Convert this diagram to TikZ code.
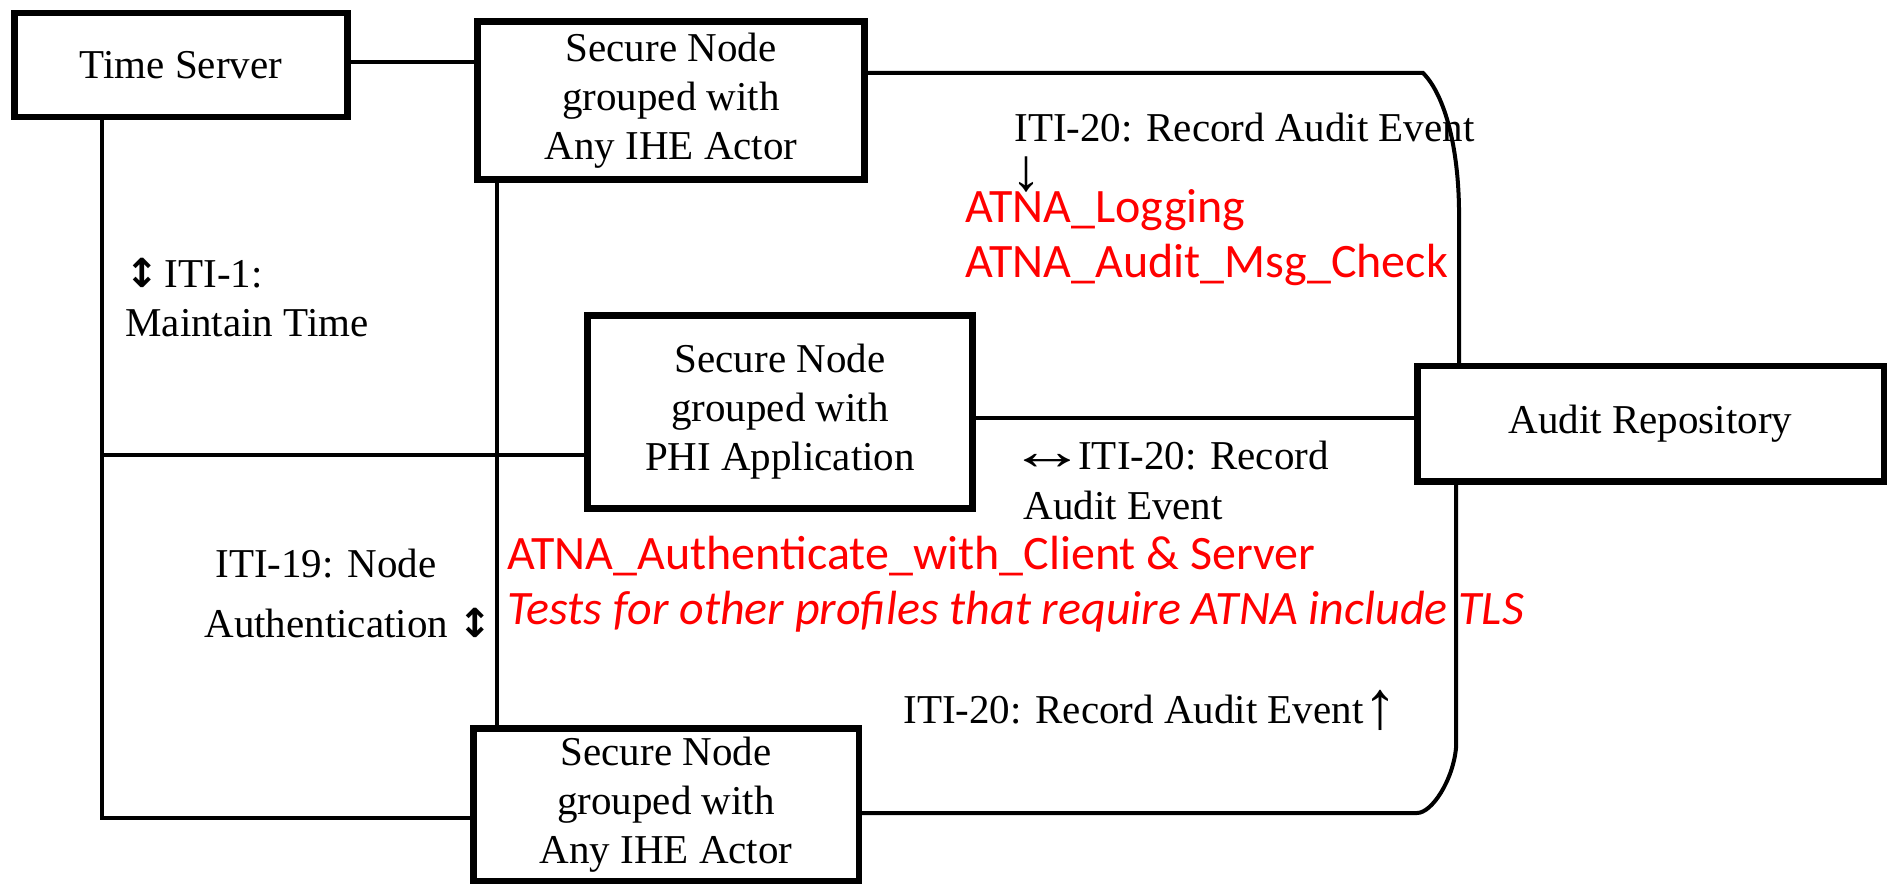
\documentclass[tikz,border=0pt]{standalone}
\usepackage{fontspec}
\setmainfont{Liberation Serif}
\newfontfamily\redfnt{Carlito}
\newfontfamily\arrfnt{DejaVu Sans}
\newcommand\blk{\fontsize{20.5}{24.5}\selectfont}
\newcommand\rdf{\redfnt\fontsize{24}{27}\selectfont}
\newcommand\udarr{{\arrfnt\bfseries\fontsize{20}{20}\selectfont ↕}}
\begin{document}
\begin{tikzpicture}[x=0.5pt,y=-0.5pt,
  box/.style={draw,line width=3.25pt,inner sep=0pt,align=center,font=\blk},
  conn/.style={line width=2pt},
  lbl/.style={inner sep=0pt,anchor=base west,font=\blk},
  redlbl/.style={inner sep=0pt,anchor=base west,font=\rdf,text={rgb,255:red,255;green,0;blue,0}}]
\useasboundingbox (0,0) rectangle (1889,886);
% boxes
\node[box,minimum width=166.5pt,minimum height=52pt] (ts) at (181,65) {Time Server};
\node[box,minimum width=193.5pt,minimum height=79pt] (sn1) at (671,100.5) {Secure Node\\grouped with\\Any IHE Actor};
\node[box,minimum width=192.5pt,minimum height=96.5pt] (phi) at (780,412) {Secure Node\\grouped with\\PHI Application};
\node[box,minimum width=233.25pt,minimum height=57.75pt] (ar) at (1650.5,424) {Audit Repository};
\node[box,minimum width=192.75pt,minimum height=76.25pt] (sn3) at (666,804.5) {Secure Node\\grouped with\\Any IHE Actor};
% helper coordinates
\coordinate (xl) at (102,0);
\coordinate (xm) at (497,0);
\coordinate (yt) at (0,62);
\coordinate (yphi) at (0,455);
\coordinate (ybl) at (0,818);
\coordinate (ytop) at (0,73);
\coordinate (yar) at (0,418);
\coordinate (tc1) at (1423,73);
\coordinate (tc2) at (1459,222);
\coordinate (bc1) at (1456,748);
\coordinate (bc2) at (1417,813);
% connectors
\draw[conn] (ts.east |- yt) -- (sn1.west |- yt);
\draw[conn] (xl |- ts.south) -- (xl |- ybl) -- (sn3.west |- ybl);
\draw[conn] (xl |- yphi) -- (phi.west |- yphi);
\draw[conn] (xm |- sn1.south) -- (xm |- sn3.north);
\draw[conn] (sn1.east |- ytop) -- (tc1) .. controls (1445,95) and (1460,150) .. (tc2) -- (tc2 |- ar.north);
\draw[conn] (phi.east |- yar) -- (ar.west |- yar);
\draw[conn] (bc1 |- ar.south) -- (bc1) .. controls (1453,780) and (1432,813) .. (bc2) -- (sn3.east |- bc2);
% black labels
\node[lbl] (l1a) at (125,288) {\udarr\hspace{3pt}ITI-1:};
\node[lbl] (l1b) at (125,337) {Maintain Time};
\node[lbl] (l19a) at (215,578) {ITI-19: Node};
\node[lbl] (l19b) at (204,638) {Authentication \udarr};
\node[lbl] (l20a) at (1014,142) {ITI-20: Record Audit Event};
\node[inner sep=0pt,anchor=base,font=\fontsize{30}{30}\selectfont] (dn) at (1026,191) {\raisebox{0pt}[16pt][0pt]{↓}};
\node[lbl] (l20b) at (1008,470) {\scalebox{1.9}[1.3]{↔}\hspace{-4pt}ITI-20: Record};
\node[lbl] (l20c) at (1023,520) {Audit Event};
\node[lbl] (l20d) at (903,723) {ITI-20: Record Audit Event\raisebox{-2.5pt}[17pt][0pt]{\fontsize{34}{34}\selectfont ↑}};
% red labels
\node[redlbl] (r1) at (965,223) {ATNA\_Logging};
\node[redlbl] (r2) at (965,278) {ATNA\_Audit\_Msg\_Check};
\node[redlbl] (r3) at (507,570) {ATNA\_Authenticate\_with\_Client \& Server};
\node[redlbl] (r4) at (507,625) {\itshape Tests for other profiles that require ATNA include TLS};
\end{tikzpicture}
\end{document}
